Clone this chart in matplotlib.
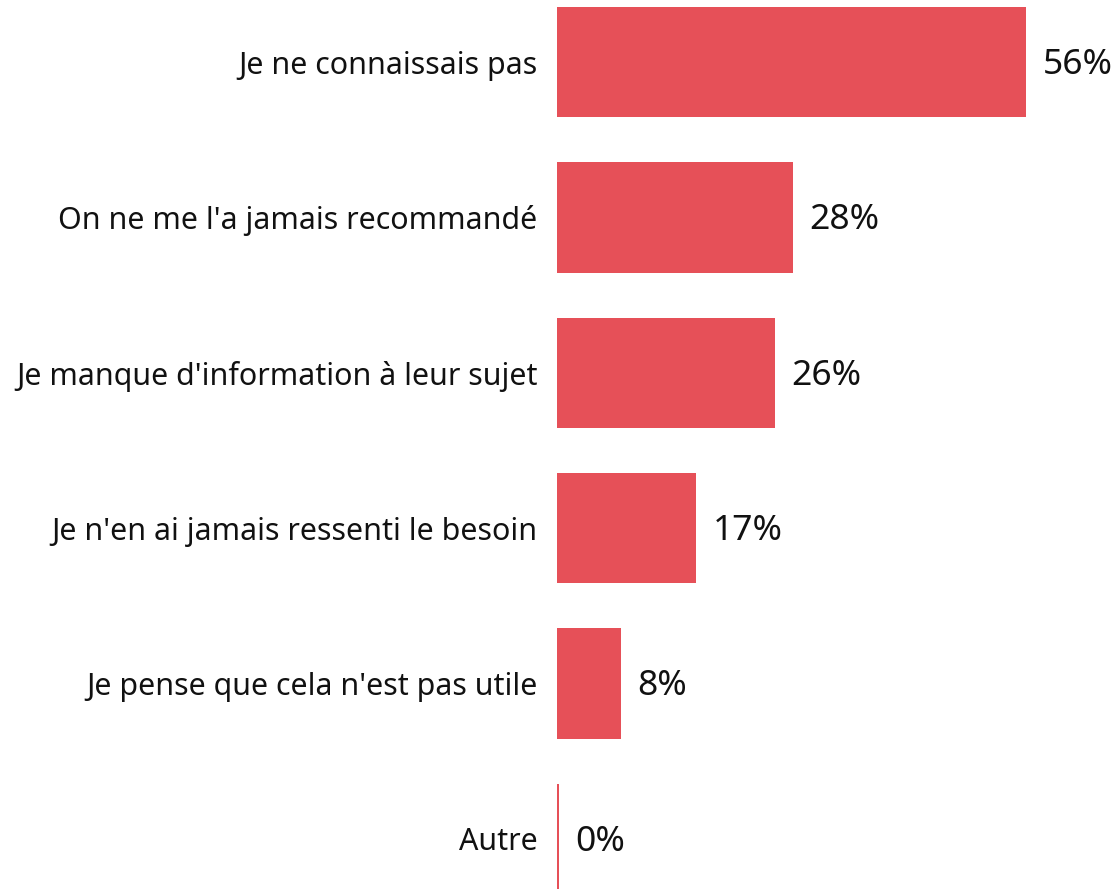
import matplotlib
matplotlib.use("Agg")
import matplotlib.pyplot as plt

categories = [
    "Je ne connaissais pas",
    "On ne me l'a jamais recommandé",
    "Je manque d'information à leur sujet",
    "Je n'en ai jamais ressenti le besoin",
    "Je pense que cela n'est pas utile",
    "Autre",
]
values = [56.0, 28.2, 26.0, 16.6, 7.6, 0.2]
value_labels = ["56%", "28%", "26%", "17%", "8%", "0%"]

bar_color = "#E65058"

plt.rcParams["font.family"] = ["Noto Sans", "DejaVu Sans"]

fig = plt.figure(figsize=(11.17, 8.89), dpi=100)
ax = fig.add_axes([557 / 1117, 0, 1 - 557 / 1117, 1])

positions = list(range(len(categories)))
ax.barh(positions, values, height=0.71, color=bar_color)

for pos, val, lab in zip(positions, values, value_labels):
    ax.annotate(lab, xy=(val, pos), xytext=(12, -2), textcoords="offset points",
                ha="left", va="center", fontsize=25.5, color="#111111")

ax.set_xlim(0, 66.9)
ax.set_ylim(5.322, -0.399)
ax.set_yticks(positions)
ax.set_yticklabels(categories, fontsize=21.9, color="#111111")
ax.tick_params(axis="y", length=0, pad=14)
ax.set_xticks([])
for side in ("top", "right", "bottom", "left"):
    ax.spines[side].set_visible(False)

fig.savefig("out.png", dpi=100)
